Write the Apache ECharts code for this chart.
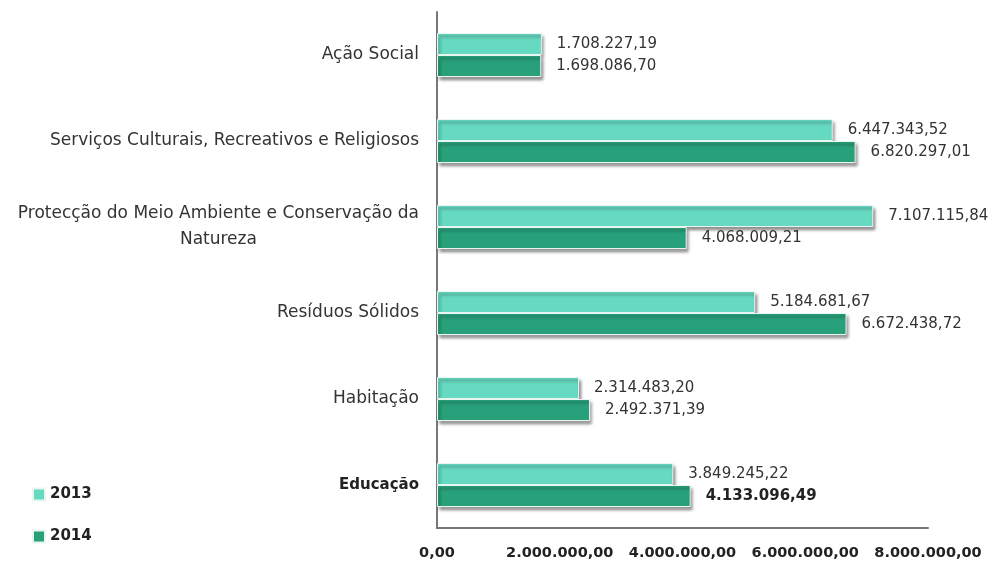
<!DOCTYPE html>
<html>
<head>
<meta charset="utf-8">
<script src="https://cdn.jsdelivr.net/npm/echarts@6/dist/echarts.min.js"></script>
<style>
  html, body { margin: 0; padding: 0; background: #fff; }
  #main { width: 988px; height: 565px; }
</style>
</head>
<body>
<div id="main"></div>
<script>
// dados
var categories = [
  'Ação Social',
  'Serviços Culturais, Recreativos e Religiosos',
  'Protecção do Meio Ambiente e Conservação da\nNatureza',
  'Resíduos Sólidos',
  'Habitação',
  'Educação'
]
var valores2013 = [1708227.19, 6447343.52, 7107115.84, 5184681.67, 2314483.20, 3849245.22]
var valores2014 = [1698086.70, 6820297.01, 4068009.21, 6672438.72, 2492371.39, 4133096.49]
var xTicks = [0, 2000000, 4000000, 6000000, 8000000]

// formato 1.234.567,89
function fmt(v) {
  var parts = v.toFixed(2).split('.')
  var int = parts[0].replace(/\B(?=(\d{3})+(?!\d))/g, '.')
  return int + ',' + parts[1]
}

var myChart = echarts.init(document.getElementById('main'))

var shadow = {
  shadowColor: 'rgba(0,0,0,0.45)',
  shadowBlur: 3,
  shadowOffsetX: 2,
  shadowOffsetY: 3
}

var valueLabel = {
  show: true,
  position: 'right',
  distance: 15,
  fontFamily: 'DejaVu Sans',
  fontSize: 15,
  color: '#333',
  formatter: function (p) { return fmt(p.value) }
}

var option = {
  animation: false,
  legend: {
    orient: 'vertical',
    left: 27,
    top: 482,
    itemGap: 27,
    itemWidth: 12,
    itemHeight: 12,
    icon: 'rect',
    textStyle: { fontFamily: 'DejaVu Sans', fontWeight: 'bold', fontSize: 15, color: '#222' },
    data: ['2013', '2014']
  },
  grid: { left: 437, right: 60, top: 12, bottom: 37, containLabel: false, outerBoundsMode: 'none' },
  xAxis: {
    type: 'value',
    min: 0,
    max: 8000000,
    interval: 2000000,
    axisLine: { show: true, lineStyle: { color: '#777', width: 2 } },
    axisTick: { show: false },
    splitLine: { show: false },
    axisLabel: {
      margin: 18,
      hideOverlap: false,
      fontFamily: 'DejaVu Sans',
      fontWeight: 'bold',
      fontSize: 14.5,
      color: '#222',
      formatter: function (v) { return xTicks.indexOf(v) >= 0 ? fmt(v) : '' }
    }
  },
  yAxis: {
    type: 'category',
    inverse: true,
    data: categories,
    axisLine: { show: true, lineStyle: { color: '#777', width: 2 } },
    axisTick: { show: false },
    axisLabel: {
      margin: 18,
      fontFamily: 'DejaVu Sans',
      fontSize: 17,
      color: '#333',
      lineHeight: 26,
      formatter: function (v) {
        if (v === 'Educação') return '{b|' + v + '}'
        if (v.indexOf('\n') >= 0) {
          return v.split('\n').map(function (s) { return '{c|' + s + '}' }).join('\n')
        }
        return v
      },
      rich: {
        b: { fontFamily: 'DejaVu Sans', fontWeight: 'bold', fontSize: 15, color: '#222' },
        c: { fontFamily: 'DejaVu Sans', fontSize: 17, color: '#333', align: 'center', lineHeight: 26 }
      }
    }
  },
  series: [
    {
      name: '2013',
      type: 'bar',
      barWidth: 22,
      barGap: '0%',
      data: valores2013,
      itemStyle: Object.assign({ color: '#66D9C1', borderColor: '#e8f5f1', borderWidth: 1 }, shadow),
      label: valueLabel
    },
    {
      name: '2014',
      type: 'bar',
      barWidth: 22,
      data: valores2014.map(function (v, i) {
        if (categories[i] === 'Educação') {
          return { value: v, label: { fontWeight: 'bold', color: '#222' } }
        }
        return v
      }),
      itemStyle: Object.assign({ color: '#28A17A', borderColor: '#e8f5f1', borderWidth: 1 }, shadow),
      label: valueLabel
    }
  ]
}

myChart.setOption(option)
</script>
</body>
</html>
